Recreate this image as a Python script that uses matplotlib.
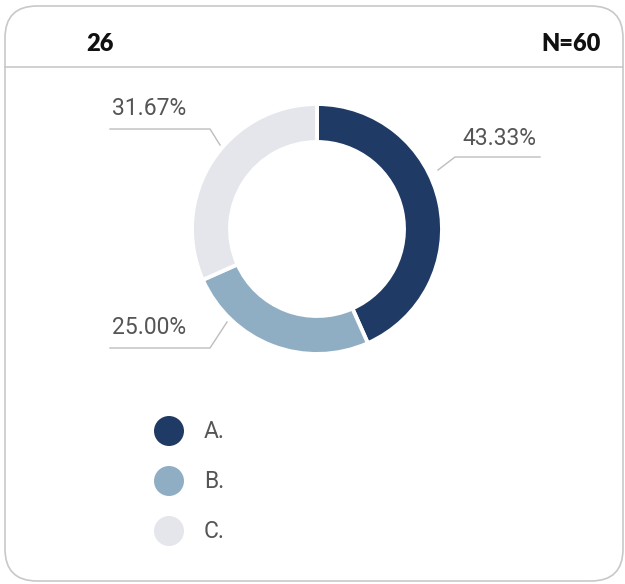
import matplotlib.pyplot as plt
from matplotlib.patches import FancyBboxPatch, Circle

# 题目编号、样本数与各选项占比
question = "26"
sample = "N=60"
options = ["A.", "B.", "C."]
shares = [43.33, 25.00, 31.67]
colors = ["#1f3a64", "#8faec4", "#e4e6eb"]

W, H = 625, 584
fig = plt.figure(figsize=(W / 100, H / 100), dpi=100)
ax = fig.add_axes([0, 0, 1, 1])

# 卡片外框和标题分隔线
card = FancyBboxPatch((5, 3), 618, H - 9, boxstyle="round,pad=0,rounding_size=32",
                      facecolor="white", edgecolor="#c8c8c8", linewidth=1.2)
ax.add_patch(card)
ax.plot([5, 623], [H - 67, H - 67], color="#c8c8c8", linewidth=1.2)
head = dict(fontsize=17, fontweight="heavy", family="Lato", color="#111111")
ax.text(100, H - 44, question, ha="center", va="center", **head)
ax.text(601, H - 44, sample, ha="right", va="center", **head)

# 环形图
cx, cy, R = 317, H - 229, 125
ax.pie(shares, colors=colors, center=(cx, cy), radius=R, startangle=90,
       counterclock=False, frame=True,
       wedgeprops=dict(width=38, edgecolor="white", linewidth=2.8))

# 百分比标签及引线
lbl = dict(fontsize=16.5, color="#555555", family="Roboto")
line = dict(color="#bdbdbd", linewidth=1.0)
ax.plot([438, 455, 540], [H - 170, H - 157, H - 157], **line)
ax.text(536, H - 150, f"{shares[0]:.2f}%", ha="right", va="bottom", **lbl)
ax.plot([110, 210, 227], [H - 348, H - 348, H - 322], **line)
ax.text(112, H - 339, f"{shares[1]:.2f}%", ha="left", va="bottom", **lbl)
ax.plot([110, 210, 220], [H - 129, H - 129, H - 145], **line)
ax.text(112, H - 120, f"{shares[2]:.2f}%", ha="left", va="bottom", **lbl)

# 图例
for i, (name, c) in enumerate(zip(options, colors)):
    y = H - (431 + 50 * i)
    ax.add_patch(Circle((169, y), 15, facecolor=c, edgecolor="none"))
    ax.text(204, y, name, ha="left", va="center", **lbl)

ax.set_xlim(0, W)
ax.set_ylim(0, H)
ax.set_aspect("equal")
ax.axis("off")

fig.savefig("out.png", dpi=100)
